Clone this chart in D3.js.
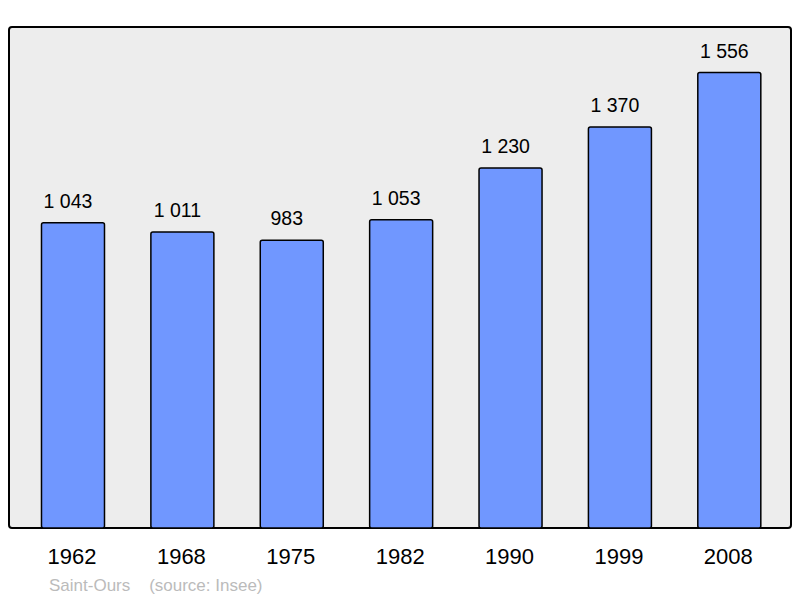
<!DOCTYPE html>
<html><head><meta charset="utf-8">
<script src="https://cdn.jsdelivr.net/npm/d3@7"></script>
<style>body{margin:0;background:#fff}svg{display:block}</style>
</head><body>
<script>
const years = ["1962","1968","1975","1982","1990","1999","2008"];
const population = [1043,1011,983,1053,1230,1370,1556];
const labels = ["1 043","1 011","983","1 053","1 230","1 370","1 556"];
const commune = "Saint-Ours";
const source = "(source: Insee)";

(function(){
const W=800,H=598;
const svg=d3.select("body").append("svg").attr("width",W).attr("height",H);
const font="'Liberation Sans', Arial, sans-serif";
const pTop=27,pBottom=528,pLeft=9,pRight=791;

svg.append("rect").attr("x",pLeft).attr("y",pTop).attr("width",pRight-pLeft).attr("height",pBottom-pTop)
  .attr("rx",3).attr("fill","#ededed").attr("stroke","#000").attr("stroke-width",2);

const x=d3.scaleBand().domain(years).range([18.3,784]).paddingInner(0.424).paddingOuter(0.212);
const y=d3.scaleLinear().domain([0,1556*1.1]).range([pBottom,pTop]);

const g=svg.append("g");
g.selectAll("rect.bar").data(population).join("rect").attr("class","bar")
  .attr("x",(d,i)=>x(years[i])).attr("width",x.bandwidth())
  .attr("y",d=>y(d)).attr("height",d=>pBottom-y(d))
  .attr("rx",2).attr("fill","#7097ff").attr("stroke","#000").attr("stroke-width",1.5);

g.selectAll("text.val").data(population).join("text").attr("class","val")
  .attr("x",(d,i)=>x(years[i])+x.bandwidth()/2-5).attr("y",d=>y(d)-15)
  .attr("text-anchor","middle").attr("font-family",font).attr("font-size",19.5).attr("fill","#000")
  .text((d,i)=>labels[i]);

const ax=svg.append("g").attr("transform",`translate(0,${pBottom})`)
  .call(d3.axisBottom(x).tickSize(0).tickPadding(0));
ax.select(".domain").remove();
ax.selectAll("text").attr("x",-1).attr("y",35.5).attr("dy",0).attr("font-family",font).attr("font-size",22).attr("fill","#000");

svg.append("text").attr("x",49).attr("y",591).attr("font-family",font).attr("font-size",17).attr("fill","#bbb")
  .attr("xml:space","preserve").text(commune+"    "+source);
})();
</script>
</body></html>
